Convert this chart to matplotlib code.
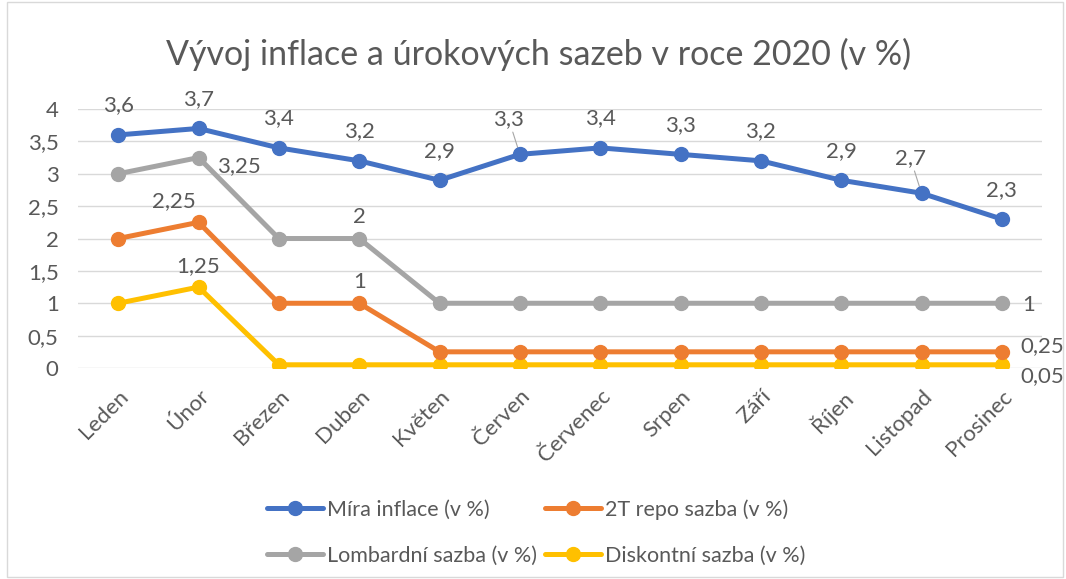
import matplotlib.pyplot as plt
from matplotlib.patches import Rectangle
from matplotlib.ticker import FuncFormatter

months = ['Leden', 'Únor', 'Březen', 'Duben', 'Květen', 'Červen',
          'Červenec', 'Srpen', 'Září', 'Říjen', 'Listopad', 'Prosinec']
inflace = [3.6, 3.7, 3.4, 3.2, 2.9, 3.3, 3.4, 3.3, 3.2, 2.9, 2.7, 2.3]
repo = [2, 2.25, 1, 1, 0.25, 0.25, 0.25, 0.25, 0.25, 0.25, 0.25, 0.25]
lombard = [3, 3.25, 2, 2, 1, 1, 1, 1, 1, 1, 1, 1]
diskont = [1, 1.25, 0.05, 0.05, 0.05, 0.05, 0.05, 0.05, 0.05, 0.05, 0.05, 0.05]

names = ['Míra inflace (v %)', '2T repo sazba (v %)',
         'Lombardní sazba (v %)', 'Diskontní sazba (v %)']
colors = ['#4472C4', '#ED7D31', '#A5A5A5', '#FFC000']

plt.rcParams['font.family'] = ['Lato', 'DejaVu Sans']
txt = '#595959'
fs = 16

def fmt(v):
    return ('%g' % v).replace('.', ',')

fig = plt.figure(figsize=(10.66, 5.79), dpi=100)
ax = fig.add_axes([0.0732, 0.3644, 0.9043, 0.4473])

x = list(range(len(months)))
series = [inflace, repo, lombard, diskont]
lines = {}
# draw order: yellow bottom, then gray, orange, blue on top
for idx in [3, 2, 1, 0]:
    ln, = ax.plot(x, series[idx], color=colors[idx], lw=3.6, marker='o', ms=10,
                  label=names[idx], zorder=3 + (3 - idx), solid_capstyle='round')
    lines[idx] = ln

ax.set_xlim(-0.5, len(months) - 0.5)
ax.set_ylim(0, 4)
ax.set_yticks([0, 0.5, 1, 1.5, 2, 2.5, 3, 3.5, 4])
ax.yaxis.set_major_formatter(FuncFormatter(lambda v, p: fmt(v)))
ax.grid(axis='y', color='#D9D9D9', lw=1)
ax.set_axisbelow(True)
for s in ax.spines.values():
    s.set_visible(False)
ax.tick_params(length=0, colors=txt, labelsize=fs)
ax.tick_params(axis='y', pad=14)
ax.set_xticks(x)
ax.set_xticklabels(months, rotation=45, ha='right', rotation_mode='anchor',
                   fontsize=16)
ax.tick_params(axis='x', pad=13)

# data labels: offsets in points
for i, v in enumerate(inflace):
    dx, dy = 0, 14
    lead = False
    if i in (5, 10):
        dx, dy, lead = -8, 18, True
    ax.annotate(fmt(v), (i, v), xytext=(dx, dy), textcoords='offset points',
                ha='center', va='bottom', fontsize=fs, color=txt,
                arrowprops=dict(arrowstyle='-', color='#A6A6A6', lw=0.8,
                                shrinkA=0, shrinkB=5) if lead else None)

extra = [
    (repo, 1, -18, 8, 'center', 'bottom'),
    (repo, 3, 0, 8, 'center', 'bottom'),
    (repo, 11, 13, 4, 'left', 'center'),
    (lombard, 1, 13, -6, 'left', 'center'),
    (lombard, 3, 0, 8, 'center', 'bottom'),
    (lombard, 11, 15, -1, 'left', 'center'),
    (diskont, 1, 0, 8, 'center', 'bottom'),
    (diskont, 11, 13, -8, 'left', 'center'),
]
for data, i, dx, dy, ha, va in extra:
    ax.annotate(fmt(data[i]), (i, data[i]), xytext=(dx, dy),
                textcoords='offset points', ha=ha, va=va, fontsize=fs,
                color=txt)

fig.suptitle('Vývoj inflace a úrokových sazeb v roce 2020 (v %)',
             x=0.505, y=0.935, fontsize=24.5, color=txt)

order = [0, 2, 1, 3]
fig.legend([lines[k] for k in order], [names[k] for k in order],
           loc='lower center', bbox_to_anchor=(0.503, -0.01), ncol=2,
           frameon=False, fontsize=15.5, labelcolor=txt, handlelength=2.6,
           handletextpad=0.2, columnspacing=0.35, labelspacing=1.2)

fig.add_artist(Rectangle((0.007, 0.003), 0.99, 0.994, transform=fig.transFigure,
                         fill=False, edgecolor='#D9D9D9', lw=1))

fig.savefig('out.png', dpi=100)
